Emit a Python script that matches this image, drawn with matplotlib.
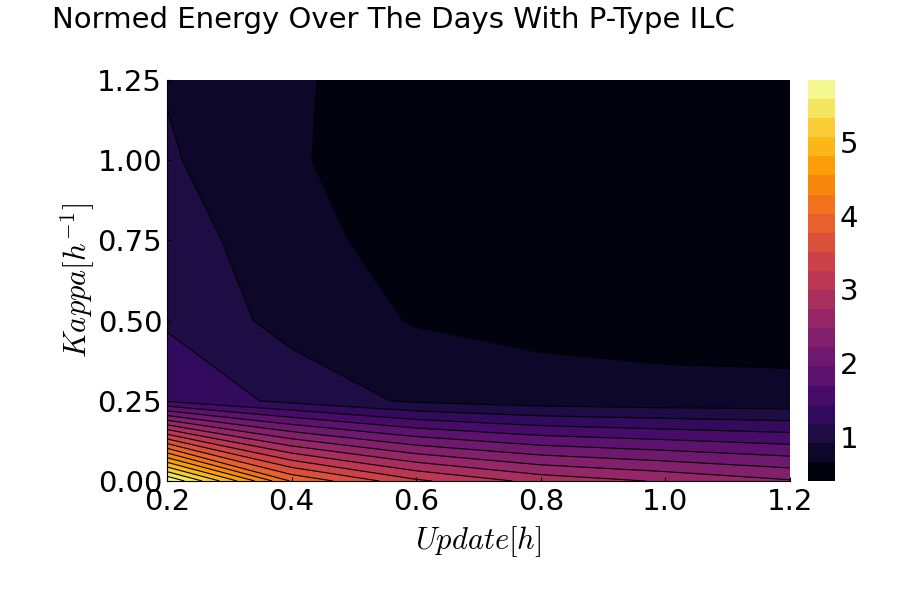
import numpy as np
import matplotlib.pyplot as plt

plt.rcParams['mathtext.fontset'] = 'cm'

update = [0.2, 0.4, 0.6, 0.8, 1.0, 1.2]
kappa = [0.0, 0.25, 0.5, 0.75, 1.0, 1.25]
energy = [
    [5.84, 4.00, 3.30, 2.90, 2.70, 2.50],
    [1.40, 1.10, 0.87, 0.78, 0.75, 0.74],
    [1.14, 0.82, 0.64, 0.58, 0.55, 0.54],
    [1.05, 0.75, 0.55, 0.50, 0.48, 0.46],
    [0.95, 0.69, 0.50, 0.46, 0.44, 0.42],
    [0.90, 0.70, 0.50, 0.45, 0.42, 0.40],
]

Z = np.array(energy)
levels = np.linspace(Z.min(), Z.max(), 22)

fig = plt.figure(figsize=(9, 6), dpi=100)
ax = fig.add_axes([167/900, 119/600, 623/900, 401/600])
cax = fig.add_axes([808/900, 119/600, 27/900, 401/600])

cf = ax.contourf(update, kappa, Z, levels=levels, cmap='inferno')
ax.contour(update, kappa, Z, levels=levels, colors='black', linewidths=0.8)

ax.set_xlim(0.2, 1.2)
ax.set_ylim(0, 1.25)
ax.set_xticks([0.2, 0.4, 0.6, 0.8, 1.0, 1.2])
ax.set_yticks([0, 0.25, 0.5, 0.75, 1.0, 1.25])
ax.set_yticklabels(['0.00', '0.25', '0.50', '0.75', '1.00', '1.25'])
ax.tick_params(labelsize=21, direction='in', length=3)
ax.tick_params(axis='x', pad=5)
ax.set_xlabel(r'$Update[h]$', fontsize=22, labelpad=6)
ax.set_ylabel(r'$Kappa[h^{-1}]$', fontsize=22, labelpad=0)
for s in ['top', 'right']:
    ax.spines[s].set_visible(False)

cb = fig.colorbar(cf, cax=cax)
cb.set_ticks([1, 2, 3, 4, 5])
cb.ax.tick_params(labelsize=21, length=0)
cb.outline.set_visible(False)

fig.text(52/900, 1 - 20/600, 'Normed Energy Over The Days With P-Type ILC',
         fontsize=21, va='center', ha='left')

fig.savefig('out.png', dpi=100)
